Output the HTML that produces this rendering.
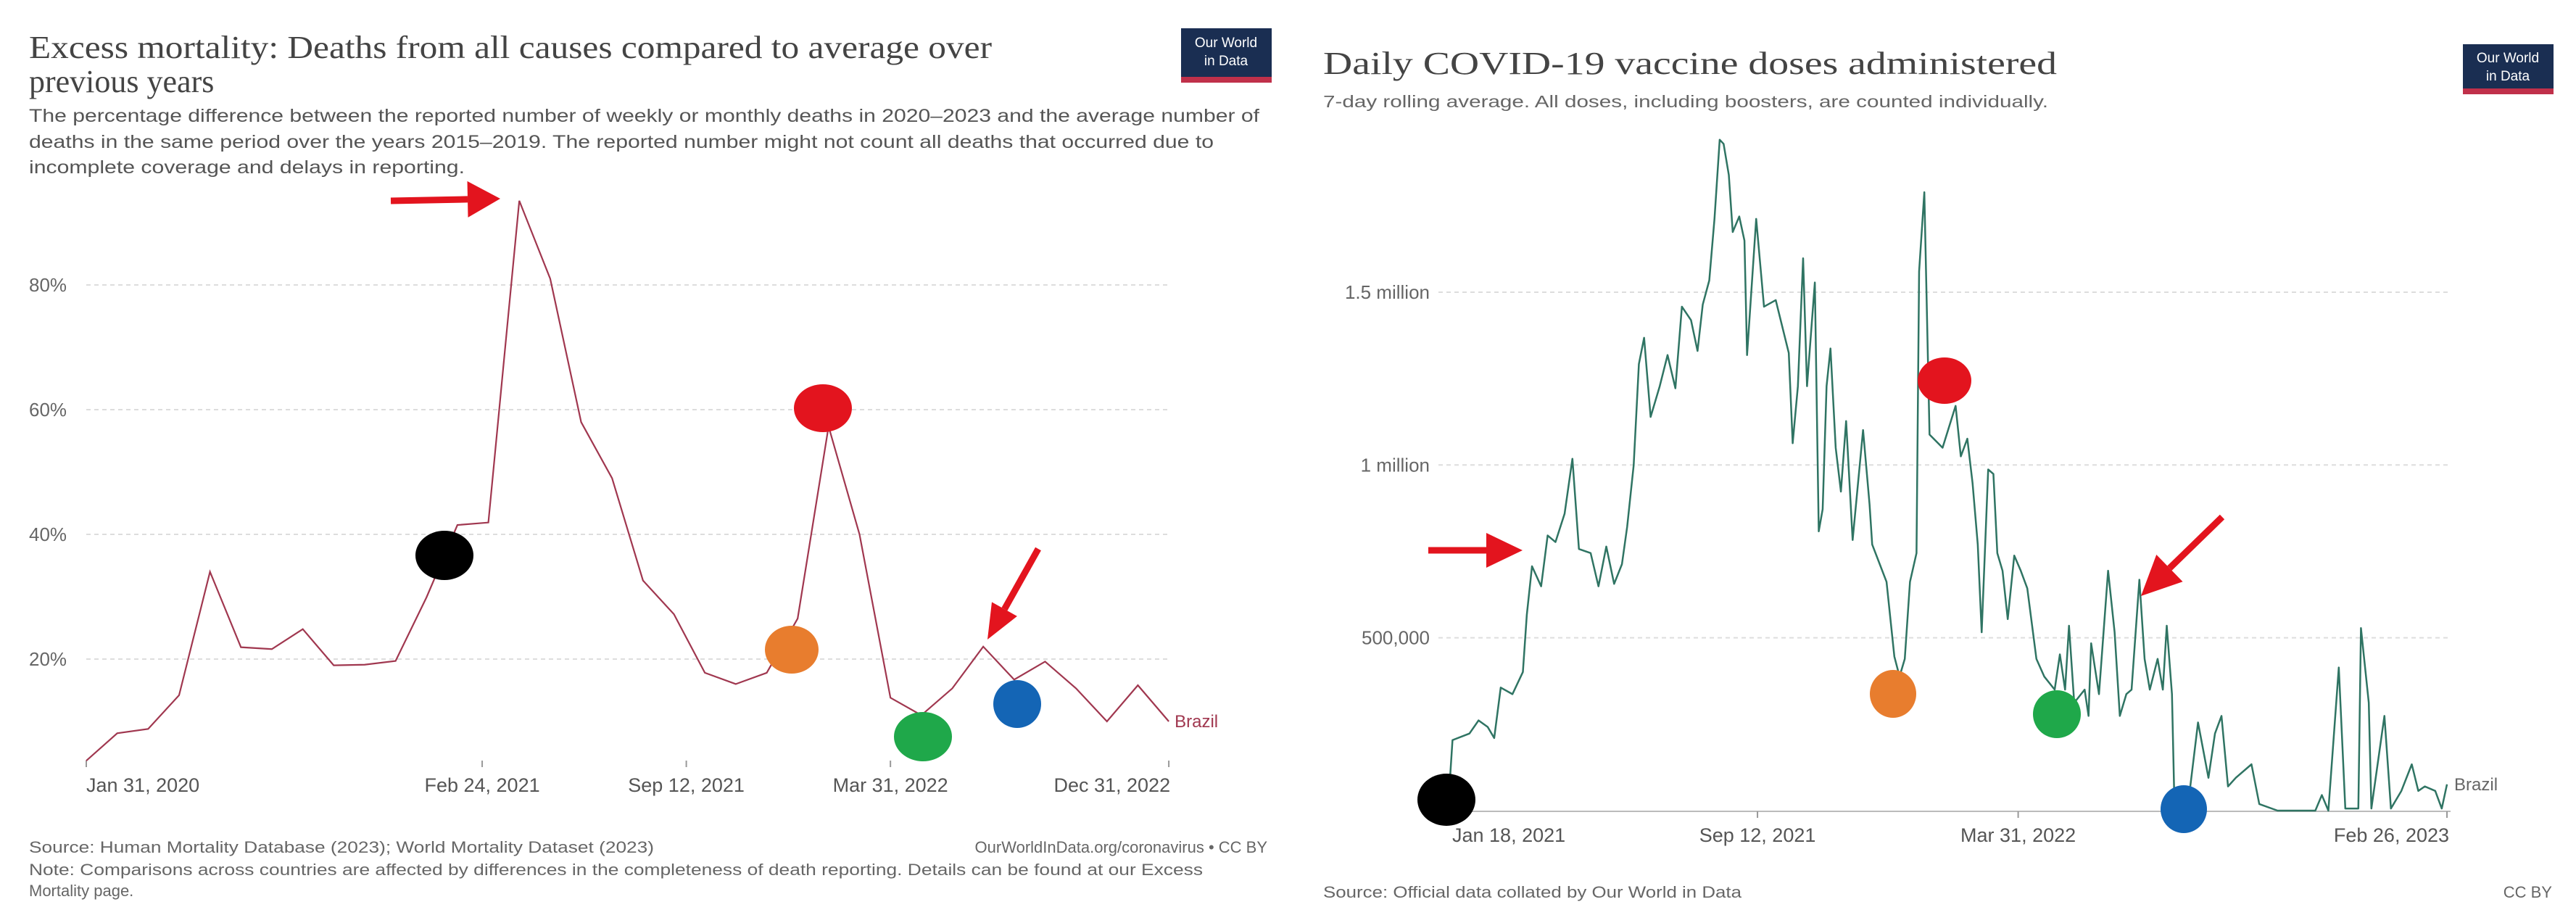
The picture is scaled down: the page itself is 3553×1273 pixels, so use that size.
<!DOCTYPE html>
<html><head><meta charset="utf-8"><style>
html,body{margin:0;padding:0;background:#fff}
svg{display:block}
text{font-family:"Liberation Sans",sans-serif}
.serif{font-family:"Liberation Serif",serif}
</style></head><body>
<svg id="root" width="3553" height="1273" viewBox="0 0 3553 1273" xmlns="http://www.w3.org/2000/svg">
<rect width="3553" height="1273" fill="#fff"/>
<g>
<text class="serif" x="40" y="80" font-size="44" fill="#444" textLength="1328" lengthAdjust="spacingAndGlyphs">Excess mortality: Deaths from all causes compared to average over</text>
<text class="serif" x="40" y="127" font-size="44" fill="#444">previous years</text>
<text x="40" y="168" font-size="25" fill="#555" textLength="1697" lengthAdjust="spacingAndGlyphs">The percentage difference between the reported number of weekly or monthly deaths in 2020–2023 and the average number of</text>
<text x="40" y="204" font-size="25" fill="#555" textLength="1634" lengthAdjust="spacingAndGlyphs">deaths in the same period over the years 2015–2019. The reported number might not count all deaths that occurred due to</text>
<text x="40" y="239" font-size="25" fill="#555" textLength="601" lengthAdjust="spacingAndGlyphs">incomplete coverage and delays in reporting.</text>
<g><rect x="1629" y="39" width="125" height="75" fill="#1a2e52"/><rect x="1629" y="106" width="125" height="8" fill="#c0304a"/><text x="1691" y="65" font-size="19" fill="#fff" text-anchor="middle">Our World</text><text x="1691" y="90" font-size="19" fill="#fff" text-anchor="middle">in Data</text></g>
<g id="lgrid"></g><g id="lline"></g>
<text x="40" y="1176" font-size="22" fill="#666" textLength="862" lengthAdjust="spacingAndGlyphs">Source: Human Mortality Database (2023); World Mortality Dataset (2023)</text>
<text x="1748" y="1176" font-size="22" fill="#666" text-anchor="end">OurWorldInData.org/coronavirus • CC BY</text>
<text x="40" y="1207" font-size="22" fill="#666" textLength="1619" lengthAdjust="spacingAndGlyphs">Note: Comparisons across countries are affected by differences in the completeness of death reporting. Details can be found at our Excess</text>
<text x="40" y="1236" font-size="22" fill="#666">Mortality page.</text>
</g>
<g>
<text class="serif" x="1825" y="102" font-size="44" fill="#444" textLength="1012" lengthAdjust="spacingAndGlyphs">Daily COVID-19 vaccine doses administered</text>
<text x="1825" y="148" font-size="23" fill="#666" textLength="1000" lengthAdjust="spacingAndGlyphs">7-day rolling average. All doses, including boosters, are counted individually.</text>
<g><rect x="3397" y="61" width="125" height="69" fill="#1a2e52"/><rect x="3397" y="122" width="125" height="8" fill="#c0304a"/><text x="3459" y="86" font-size="19" fill="#fff" text-anchor="middle">Our World</text><text x="3459" y="111" font-size="19" fill="#fff" text-anchor="middle">in Data</text></g>
<g id="rgrid"></g><g id="rline"></g>
<text x="1825" y="1238" font-size="22" fill="#666" textLength="577" lengthAdjust="spacingAndGlyphs">Source: Official data collated by Our World in Data</text>
<text x="3520" y="1238" font-size="22" fill="#666" text-anchor="end">CC BY</text>
</g>
<g id="annot"></g>
</svg>
<script>
// ---- Left chart data (excess mortality %, monthly from Jan 2020) ----
const leftMonths = [0,1,2,3,4,5,6,7,8,9,10,11,12,13,14,15,16,17,18,19,20,21,22,23,24,25,26,27,28,29,30,31,32,33,34,35];
const leftValues = [3.7,8.1,8.8,14.2,34,21.9,21.6,24.8,19,19.1,19.7,29.9,41.5,41.9,93.5,81,58,49,32.6,27.2,17.8,16,17.8,26.5,57.3,40,13.8,11,15.3,22,16.7,19.6,15.3,10,15.8,10];
const leftYTicks = [20,40,60,80];
const leftXTickMonths = [0,12.8,19.4,26,35];
const leftXTickLabels = ["Jan 31, 2020","Feb 24, 2021","Sep 12, 2021","Mar 31, 2022","Dec 31, 2022"];
// ---- Right chart data (daily doses, thousands; day offset from Jan 18, 2021) ----
const rightDays = [0,3,16,23,30,35,40,49,57,60,64,71,76,82,89,95,100,109,115,121,127,133,137,142,146,150,155,162,168,174,179,186,191,195,200,204,208,211,215,218,223,227,229,236,242,251,261,264,268,272,275,281,284,287,290,293,297,301,305,310,318,323,325,336,342,346,350,354,359,361,365,369,379,389,393,398,402,406,409,414,418,421,425,429,434,439,444,451,457,465,469,473,476,480,488,491,493,499,506,511,515,520,524,530,534,538,544,548,551,555,557,567,575,583,588,593,598,604,616,622,636,665,670,675,683,688,698,700,706,708,718,723,731,739,744,749,757,762,766];
const rightValues = [30,204,223,261,242,210,356,337,401,566,707,649,796,777,859,1018,757,745,649,764,656,713,821,999,1292,1368,1139,1228,1318,1222,1458,1419,1330,1464,1534,1712,1941,1929,1839,1674,1719,1649,1318,1712,1458,1477,1324,1063,1228,1598,1228,1528,808,872,1228,1337,1050,923,1127,783,1101,885,770,662,446,388,439,662,745,1560,1789,1088,1050,1171,1025,1076,948,770,516,987,974,745,694,554,738,694,643,439,388,350,452,350,535,312,350,274,484,337,694,516,274,337,350,668,439,350,439,350,535,337,0,6,255,95,223,274,70,95,134,19,0,0,45,0,414,6,6,528,312,6,274,6,57,134,57,70,57,6,76];
const rightYTicks = [500,1000,1500];
const rightYTickLabels = ["500,000","1 million","1.5 million"];
const rightXTickDays = [0,237,437,766];
const rightXTickLabels = ["Jan 18, 2021","Sep 12, 2021","Mar 31, 2022","Feb 26, 2023"];

const NS="http://www.w3.org/2000/svg";
function mk(tag,attrs,parent,txt){const e=document.createElementNS(NS,tag);for(const k in attrs)e.setAttribute(k,attrs[k]);if(txt!==undefined)e.textContent=txt;parent.appendChild(e);return e;}

// Left axes
const lx=m=>119+m*42.66;
const ly=v=>1081-v*8.6;
const lg=document.getElementById('lgrid');
leftYTicks.forEach(t=>{
  const g=mk('line',{x1:119,x2:1612,y1:ly(t),y2:ly(t),stroke:'#ddd','stroke-width':2,'stroke-dasharray':'6,5'},lg);
  
  
  const l=mk('text',{x:40,y:ly(t)+9,'font-size':26,fill:'#666'},lg,t+'%');
  
  
});
leftXTickMonths.forEach((m,i)=>{
  const tk=mk('line',{x1:lx(m),x2:lx(m),y1:1049,y2:1058,stroke:'#999','stroke-width':2},lg);
  
  
  let anchor='middle',xx=lx(m);
  if(i===0){anchor='start';}
  if(i===leftXTickMonths.length-1){anchor='end';xx=lx(m)+2;}
  const l=mk('text',{x:xx,y:1092,'font-size':27,fill:'#555','text-anchor':anchor},lg,leftXTickLabels[i]);
  
  
});
const ll=document.getElementById('lline');
const lpath=mk('polyline',{points:leftMonths.map((m,i)=>lx(m)+','+ly(leftValues[i])).join(' '),fill:'none',stroke:'#a0374f','stroke-width':2.2},ll);


const lbl=mk('text',{x:lx(leftMonths[leftMonths.length-1])+8,y:ly(leftValues[leftValues.length-1])+8,'font-size':24,fill:'#a0374f'},ll,'Brazil');



// Right axes
const rx=d=>1998+d*1.7977;
const ry=v=>1118-v*0.4767;
const rg=document.getElementById('rgrid');
rightYTicks.forEach((t,i)=>{
  const g=mk('line',{x1:1984,x2:3380,y1:ry(t),y2:ry(t),stroke:'#ddd','stroke-width':2,'stroke-dasharray':'6,5'},rg);
  
  
  const l=mk('text',{x:1972,y:ry(t)+9,'font-size':26,fill:'#666','text-anchor':'end'},rg,rightYTickLabels[i]);
  
  
});
const ax=mk('line',{x1:1998,x2:3380,y1:1119,y2:1119,stroke:'#bbb','stroke-width':2},rg);


rightXTickDays.forEach((d,i)=>{
  const tk=mk('line',{x1:rx(d),x2:rx(d),y1:1119,y2:1128,stroke:'#999','stroke-width':2},rg);
  
  
  let anchor='middle',xx=rx(d);
  if(i===0){anchor='start';xx=rx(d)+5;}
  if(i===rightXTickDays.length-1){anchor='end';xx=rx(d)+3;}
  const l=mk('text',{x:xx,y:1161,'font-size':27,fill:'#555','text-anchor':anchor},rg,rightXTickLabels[i]);
  
  
});
const rl=document.getElementById('rline');
const rpath=mk('polyline',{points:rightDays.map((d,i)=>rx(d)+','+ry(rightValues[i])).join(' '),fill:'none',stroke:'#2f7463','stroke-width':2.5,'stroke-linejoin':'round'},rl);


const rlbl=mk('text',{x:rx(rightDays[rightDays.length-1])+10,y:ry(rightValues[rightValues.length-1])+8,'font-size':24,fill:'#666'},rl,'Brazil');



// Annotations (markers and arrows drawn on the screenshot)
const an=document.getElementById('annot');
const dots=[['black-marker-left',613,766,40,34,'#000'],['red-marker-left',1135,563,40,33,'#e3141e'],['orange-marker-left',1092,896,37,33,'#e87d2e'],['green-marker-left',1273,1016,40,34,'#1fa84a'],['blue-marker-left',1403,971,33,33,'#1465b5'],
['black-marker-right',1995,1103,40,36,'#000'],['red-marker-right',2682,525,37,32,'#e3141e'],['orange-marker-right',2611,957,32,33,'#e87d2e'],['green-marker-right',2837,985,33,33,'#1fa84a'],['blue-marker-right',3012,1116,32,33,'#1465b5']];
dots.forEach(d=>{
  const e=mk('ellipse',{cx:d[1],cy:d[2],rx:d[3],ry:d[4],fill:d[5]},an);
  
  
});
function arrow(name,x1,y1,x2,y2,hl,hw){
  const a=Math.atan2(y2-y1,x2-x1),c=Math.cos(a),s=Math.sin(a);
  const bx=x2-c*hl,by=y2-s*hl;
  const g=mk('g',{},an);
  
  
  mk('line',{x1:x1,y1:y1,x2:bx,y2:by,stroke:'#e3141e','stroke-width':9},g);
  mk('polygon',{points:`${x2},${y2} ${bx-s*hw},${by+c*hw} ${bx+s*hw},${by-c*hw}`,fill:'#e3141e'},g);
}
arrow('left-peak-arrow',539,277,690,274,45,25);
arrow('left-drop-arrow',1432,757,1362,882,48,20);
arrow('right-rise-arrow',1970,759,2100,759,50,24);
arrow('right-peak-arrow',3065,713,2953,822,55,26);
</script>
</body></html>
